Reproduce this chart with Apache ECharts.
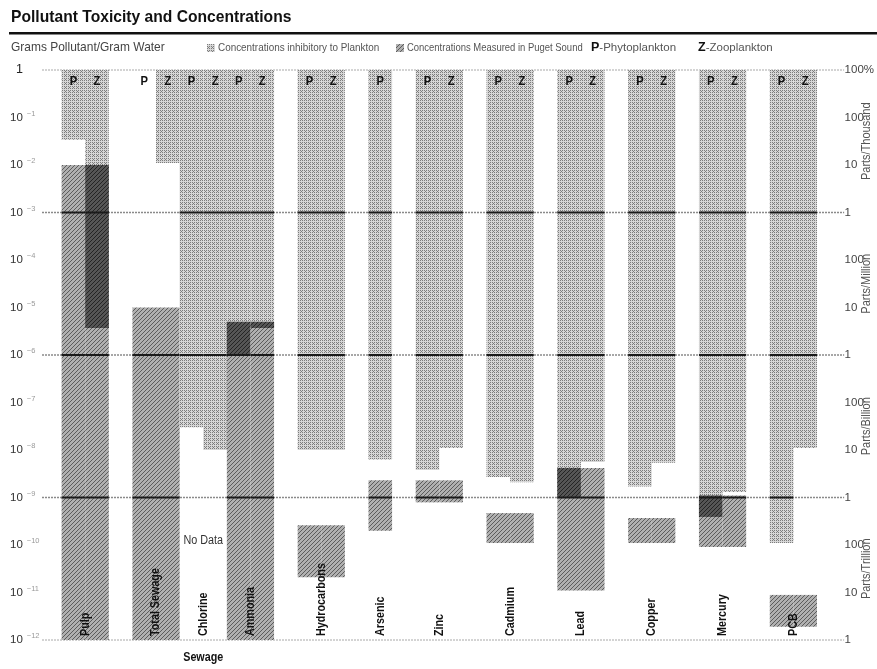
<!DOCTYPE html>
<html>
<head>
<meta charset="utf-8">
<script src="https://cdn.jsdelivr.net/npm/echarts@6/dist/echarts.min.js"></script>
<style>
  html, body { margin: 0; padding: 0; background: #fff; }
  #chart { width: 877px; height: 669px; }
</style>
</head>
<body>
<div id="chart"></div>
<script>
// Pollutants, in left-to-right order
const categories = ['Pulp', 'Total Sewage', 'Chlorine', 'Ammonia', 'Hydrocarbons', 'Arsenic',
  'Zinc', 'Cadmium', 'Lead', 'Copper', 'Mercury', 'PCB'];
// Pollutants grouped under the "Sewage" heading
const sewageGroup = ['Total Sewage', 'Chlorine', 'Ammonia'];
// Plankton columns shown for each pollutant (P = phytoplankton, Z = zooplankton)
const testedFor = ['PZ', 'PZ', 'PZ', 'PZ', 'PZ', 'P', 'PZ', 'PZ', 'PZ', 'PZ', 'PZ', 'PZ'];

// Lowest inhibitory concentration, grams pollutant / gram water (range runs up to 1)
const phytoInhibitory = [3.4e-2, null, 3.0e-8, 1.0e-6, 1.0e-8, 6.3e-9, 3.8e-9, 2.7e-9, 1.0e-9, 1.7e-9, 3.9e-10, 1.1e-10];
const zooInhibitory   = [3.7e-6, 1.1e-2, 1.0e-8, 3.7e-6, 1.0e-8, null, 1.1e-8, 2.1e-9, 5.6e-9, 5.4e-9, 1.3e-9, 1.1e-8];

// Range of concentrations measured in Puget Sound
const measuredHigh = [1.0e-2, 1.0e-5, null, 5.0e-6, 2.6e-10, 2.3e-9, 2.3e-9, 4.7e-10, 4.2e-9, 3.7e-10, 1.1e-9, 8.9e-12];
const measuredLow  = [1.0e-12, 1.0e-12, null, 1.0e-12, 2.1e-11, 2.0e-10, 7.9e-10, 1.1e-10, 1.1e-11, 1.1e-10, 9.1e-11, 1.9e-12];

// Horizontal reference rules and right-hand unit scale
const ruleLevels = [1, 1e-3, 1e-6, 1e-9, 1e-12];
const rightTickLabels = ['100%', '100', '10', '1', '100', '10', '1', '100', '10', '1', '100', '10', '1'];
const unitNames = ['Parts/Thousand', 'Parts/Million', 'Parts/Billion', 'Parts/Trillion'];
const unitSpans = [[1e-1, 1e-2], [1e-4, 1e-5], [1e-7, 1e-8], [1e-10, 1e-11]];

const FONT = "'Liberation Sans','Arial',sans-serif";
const SQUEEZE = 0.86; // horizontal condensing applied to the bold labels

// Small repeating textures for the fills
function pattern(bg, fg, pts) {
  const c = document.createElement('canvas');
  c.width = 4; c.height = 4;
  const g = c.getContext('2d');
  g.fillStyle = bg; g.fillRect(0, 0, 4, 4);
  g.fillStyle = fg;
  pts.forEach(p => g.fillRect(p[0], p[1], 1, 1));
  return { image: c, repeat: 'repeat' };
}
const inhibFill = pattern('#d6d6d6', '#7c7c7c', [[0, 0], [2, 0], [0, 2], [2, 2], [1, 3]]);
const measFill = pattern('#b0b0b0', '#5c5c5c', [[0, 3], [1, 2], [2, 1], [3, 0]]);
const overlapFill = pattern('#565656', '#242424', [[0, 3], [1, 2], [2, 1], [3, 0]]);

// Column slots: each plankton column takes one slot, groups separated by one empty slot
const slots = [];
let cursor = 0;
categories.forEach((c, i) => {
  const joined = i > 0 && sewageGroup.includes(c) && sewageGroup.includes(categories[i - 1]);
  if (i > 0 && !joined) cursor += 1;
  slots.push(cursor);
  cursor += testedFor[i].length;
});

const columnData = [];
categories.forEach((c, i) => {
  for (let k = 0; k < testedFor[i].length; k++) columnData.push([slots[i] + k, 1, i, k]);
});
const labelData = categories.map((c, i) => [slots[i] + testedFor[i].length / 2, 1e-12, i]);
const sewageIdx = sewageGroup.map(s => categories.indexOf(s));
const sewageCenter = (slots[sewageIdx[0]] + slots[sewageIdx[sewageIdx.length - 1]] +
  testedFor[sewageIdx[sewageIdx.length - 1]].length) / 2;

function renderColumn(params, api) {
  const x0 = api.value(0), gi = api.value(2), k = api.value(3);
  const org = testedFor[gi][k];
  const inhLow = org === 'P' ? phytoInhibitory[gi] : zooInhibitory[gi];
  const mHi = measuredHigh[gi], mLo = measuredLow[gi];
  const left = api.coord([x0, 1])[0];
  const right = api.coord([x0 + 1, 1])[0];
  const yTop = api.coord([x0, 1])[1];
  const kids = [];
  const rect = (hi, lo, fill) => {
    const y1 = api.coord([x0, hi])[1], y2 = api.coord([x0, lo])[1];
    kids.push({ type: 'rect', shape: { x: left, y: y1, width: right - left, height: y2 - y1 }, style: { fill: fill } });
  };
  if (inhLow != null) rect(1, inhLow, inhibFill);
  if (mHi != null) rect(mHi, mLo, measFill);
  if (inhLow != null && mHi != null) {
    const hi = Math.min(1, mHi), lo = Math.max(inhLow, mLo);
    if (hi > lo) rect(hi, lo, overlapFill);
  }
  // darker rule where it crosses a filled column
  [1e-3, 1e-6, 1e-9].forEach(v => {
    const inInh = inhLow != null && v >= inhLow;
    const inMeas = mHi != null && v <= mHi && v >= mLo;
    if (inInh || inMeas) {
      const y = api.coord([x0, v])[1];
      kids.push({ type: 'line', shape: { x1: left, y1: y, x2: right, y2: y }, style: { stroke: '#1a1a1a', lineWidth: 2 } });
    }
  });
  kids.push({
    type: 'text', x: (left + right) / 2, y: yTop + 11, scaleX: SQUEEZE,
    style: { text: org, fontFamily: FONT, fontWeight: 'bold', fontSize: 13, fill: '#111', align: 'center', verticalAlign: 'middle' }
  });
  return { type: 'group', children: kids };
}

function renderRule(params, api) {
  const v = api.value(1);
  const a = api.coord([-0.83, v]), b = api.coord([33.15, v]);
  const major = v !== 1 && v !== 1e-12;
  return {
    type: 'line', shape: { x1: a[0], y1: a[1], x2: b[0], y2: b[1] },
    style: { stroke: major ? '#8a8a8a' : '#a8a8a8', lineWidth: major ? 1.3 : 1, lineDash: [2, 1] }
  };
}

function renderLabel(params, api) {
  const gi = api.value(2);
  const p = api.coord([api.value(0), api.value(1)]);
  const kids = [{
    type: 'text', x: p[0], y: p[1] - 4, rotation: Math.PI / 2, scaleX: SQUEEZE,
    style: { text: categories[gi], fontFamily: FONT, fontWeight: 'bold', fontSize: 12.5, fill: '#111', align: 'left', verticalAlign: 'middle' }
  }];
  if (measuredHigh[gi] == null) {
    const q = api.coord([api.value(0), 1e-10]);
    kids.push({
      type: 'text', x: q[0], y: q[1] - 4, scaleX: 0.9,
      style: { text: 'No Data', fontFamily: FONT, fontSize: 12, fill: '#333', align: 'center', verticalAlign: 'middle' }
    });
  }
  return { type: 'group', children: kids };
}

function renderSewage(params, api) {
  const p = api.coord([api.value(0), api.value(1)]);
  return {
    type: 'text', x: p[0], y: p[1] + 18, scaleX: SQUEEZE,
    style: { text: 'Sewage', fontFamily: FONT, fontWeight: 'bold', fontSize: 12.5, fill: '#111', align: 'center', verticalAlign: 'middle' }
  };
}

function renderUnit(params, api) {
  const i = api.value(3);
  const a = api.coord([api.value(0), api.value(1)]);
  const b = api.coord([api.value(0), api.value(2)]);
  return {
    type: 'text', x: a[0] + 26, y: (a[1] + b[1]) / 2, rotation: Math.PI / 2, scaleX: 0.88,
    style: { text: unitNames[i], fontFamily: FONT, fontSize: 12.5, fill: '#555', align: 'center', verticalAlign: 'middle' }
  };
}

const logAxisBase = {
  type: 'log', logBase: 10, min: 1e-12, max: 1, interval: 1, splitNumber: 12,
  axisLine: { show: false }, axisTick: { show: false }, splitLine: { show: false }
};

const chart = echarts.init(document.getElementById('chart'), null, { renderer: 'canvas' });
chart.setOption({
  animation: false,
  grid: { left: 38, right: 33, top: 70, bottom: 29 },
  xAxis: { type: 'value', min: -1, max: 33, show: false },
  yAxis: [
    Object.assign({}, logAxisBase, {
      position: 'left',
      axisLabel: {
        align: 'left', margin: 28, fontFamily: FONT,
        formatter: v => {
          const e = Math.round(Math.log10(v));
          return e === 0 ? '{o|1}' : '{n|10}{e|\u2212' + (-e) + '}';
        },
        rich: {
          o: { fontSize: 12.5, color: '#222', fontFamily: FONT, padding: [0, 0, 0, 6] },
          n: { fontSize: 11.5, color: '#333', fontFamily: FONT },
          e: { fontSize: 7.5, color: '#9a9a9a', fontFamily: FONT, padding: [0, 0, 8, 4] }
        }
      }
    }),
    Object.assign({}, logAxisBase, {
      position: 'right',
      axisLabel: {
        align: 'left', margin: 4, fontFamily: FONT, fontSize: 11.5, color: '#444',
        formatter: v => rightTickLabels[-Math.round(Math.log10(v))]
      }
    })
  ],
  graphic: [
    { type: 'text', x: 11, y: 9, scaleX: 0.92, style: { text: 'Pollutant Toxicity and Concentrations', fontFamily: FONT, fontWeight: 'bold', fontSize: 17, fill: '#111' } },
    { type: 'rect', x: 9, y: 32, shape: { width: 868, height: 2.5 }, style: { fill: '#111' } },
    { type: 'text', x: 11, y: 41, scaleX: 0.92, style: { text: 'Grams Pollutant/Gram Water', fontFamily: FONT, fontSize: 13, fill: '#444' } },
    { type: 'rect', x: 207, y: 44, shape: { width: 8, height: 8 }, style: { fill: inhibFill } },
    { type: 'text', x: 218, y: 42, scaleX: 0.9, style: { text: 'Concentrations inhibitory to Plankton', fontFamily: FONT, fontSize: 11, fill: '#555' } },
    { type: 'rect', x: 396, y: 44, shape: { width: 8, height: 8 }, style: { fill: measFill } },
    { type: 'text', x: 407, y: 42, scaleX: 0.86, style: { text: 'Concentrations Measured in Puget Sound', fontFamily: FONT, fontSize: 11, fill: '#555' } },
    { type: 'text', x: 591, y: 41, style: { text: '{b|P}-Phytoplankton', fontFamily: FONT, fontSize: 11.5, fill: '#555', rich: { b: { fontWeight: 'bold', fontSize: 12.5, fill: '#111', fontFamily: FONT } } } },
    { type: 'text', x: 698, y: 41, style: { text: '{b|Z}-Zooplankton', fontFamily: FONT, fontSize: 11.5, fill: '#555', rich: { b: { fontWeight: 'bold', fontSize: 12.5, fill: '#111', fontFamily: FONT } } } }
  ],
  series: [
    { type: 'custom', name: 'rules', z: 1, renderItem: renderRule, data: ruleLevels.map(v => [0, v]), silent: true },
    { type: 'custom', name: 'columns', z: 2, renderItem: renderColumn, data: columnData, silent: true },
    { type: 'custom', name: 'labels', z: 3, renderItem: renderLabel, data: labelData, silent: true },
    { type: 'custom', name: 'sewage', z: 3, renderItem: renderSewage, data: [[sewageCenter, 1e-12]], silent: true },
    { type: 'custom', name: 'units', z: 3, yAxisIndex: 1, renderItem: renderUnit, data: unitSpans.map((s, i) => [33, s[0], s[1], i]), silent: true }
  ]
});
</script>
</body>
</html>
